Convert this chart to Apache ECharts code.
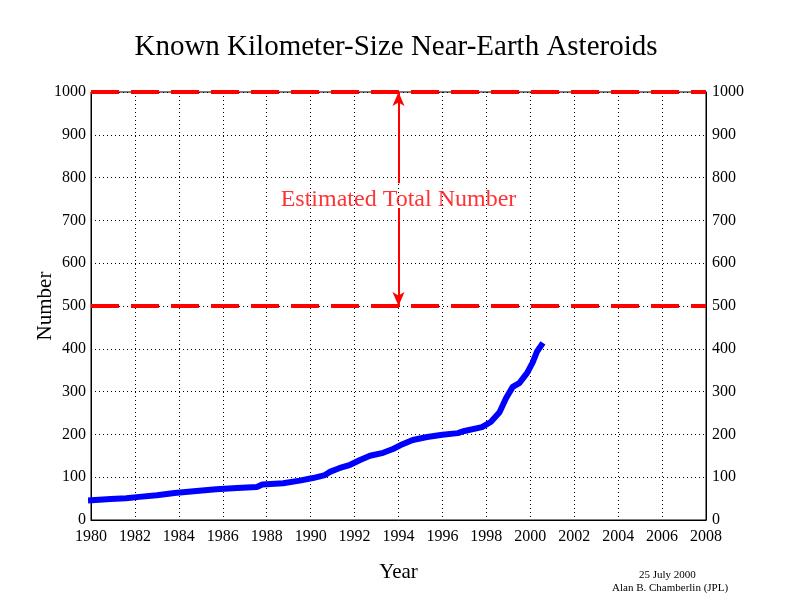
<!DOCTYPE html>
<html>
<head>
<meta charset="utf-8">
<script src="https://cdn.jsdelivr.net/npm/echarts@6/dist/echarts.min.js"></script>
<style>
  html, body { margin: 0; padding: 0; background: #fff; }
</style>
</head>
<body>
<div id="main" style="width: 792px; height: 612px"></div>
<script>
// discovery curve
var years = [1980.0, 1980.9, 1981.6, 1982.2, 1983.0, 1983.8, 1984.8, 1985.7, 1986.65, 1987.55,
  1987.8, 1988.75, 1989.5, 1990.1, 1990.65, 1990.9, 1991.3, 1991.8, 1992.25, 1992.7,
  1993.3, 1993.75, 1994.1, 1994.65, 1995.3, 1996.0, 1996.7, 1997.0, 1997.8, 1998.2,
  1998.6, 1998.9, 1999.2, 1999.5, 1999.85, 2000.1, 2000.3, 2000.5]
var counts = [46, 49, 51, 54, 58, 63, 68, 72, 75, 77,
  83, 86, 92, 98, 105, 113, 121, 129, 140, 150,
  157, 166, 175, 187, 194, 199, 203, 208, 217, 229,
  252, 285, 311, 320, 343, 367, 393, 408]

// estimated total range
var estLow = 500
var estHigh = 1000
var xRange = [1980, 2008]
var arrowYear = 1994
var arrowGap = [729, 787] // where the label breaks the arrow
var labelValue = 748

var serif = 'Liberation Serif'
var chartDom = document.getElementById('main')
var myChart = echarts.init(chartDom)

var curve = years.map(function (y, i) { return [y, counts[i]] })
var plain = function (v) { return String(v) } // no thousands separator

var option = {
  animation: false,
  title: {
    text: 'Known Kilometer-Size Near-Earth Asteroids',
    left: 'center',
    top: 28,
    textStyle: { fontFamily: serif, fontSize: 29, fontWeight: 'normal', color: '#000' }
  },
  grid: {
    left: 91, right: 86, top: 92, bottom: 92,
    show: true, borderColor: '#000', borderWidth: 1
  },
  xAxis: {
    type: 'value',
    min: xRange[0], max: xRange[1], interval: 2,
    name: 'Year',
    nameLocation: 'middle',
    nameGap: 42,
    nameTextStyle: { fontFamily: serif, fontSize: 21, color: '#000' },
    axisLine: { show: true, onZero: false, lineStyle: { color: '#000', width: 1 } },
    axisTick: { show: false },
    axisLabel: { fontFamily: serif, fontSize: 16, color: '#000', margin: 9, formatter: plain },
    splitLine: { show: true, lineStyle: { color: '#000', type: [1, 3], width: 1 } }
  },
  yAxis: [
    {
      type: 'value',
      min: 0, max: 1000, interval: 100,
      name: 'Number',
      nameLocation: 'middle',
      nameGap: 35,
      nameMoveOverlap: false,
      nameTextStyle: { fontFamily: serif, fontSize: 21, color: '#000' },
      axisLine: { show: true, lineStyle: { color: '#000', width: 1 } },
      axisTick: { show: false },
      axisLabel: { fontFamily: serif, fontSize: 16, color: '#000', margin: 5, formatter: plain },
      splitLine: { show: true, lineStyle: { color: '#000', type: [1, 3], width: 1 } }
    },
    {
      type: 'value',
      position: 'right',
      min: 0, max: 1000, interval: 100,
      axisLine: { show: true, lineStyle: { color: '#000', width: 1 } },
      axisTick: { show: false },
      axisLabel: { fontFamily: serif, fontSize: 16, color: '#000', margin: 6, formatter: plain },
      splitLine: { show: false }
    }
  ],
  series: [
    {
      name: 'Upper',
      type: 'line',
      showSymbol: false,
      lineStyle: { color: '#ff0000', width: 4, type: [28, 12] },
      data: [[xRange[0], estHigh], [xRange[1], estHigh]],
      z: 3
    },
    {
      name: 'Lower',
      type: 'line',
      showSymbol: false,
      lineStyle: { color: '#ff0000', width: 4, type: [28, 12] },
      data: [[xRange[0], estLow], [xRange[1], estLow]],
      z: 3,
      markLine: {
        silent: true,
        symbol: ['none', 'arrow'],
        symbolSize: [9, 14],
        lineStyle: { color: '#ff0000', width: 2, type: 'solid' },
        label: { show: false },
        data: [
          [{ coord: [arrowYear, arrowGap[1]] }, { coord: [arrowYear, estHigh] }],
          [{ coord: [arrowYear, arrowGap[0]] }, { coord: [arrowYear, estLow] }]
        ]
      }
    },
    {
      name: 'Label',
      type: 'scatter',
      symbolSize: 0,
      itemStyle: { color: '#ff0000' },
      data: [[arrowYear, labelValue]],
      label: {
        show: true,
        position: 'inside',
        formatter: 'Estimated Total Number',
        fontFamily: serif,
        fontSize: 24,
        color: '#ff0000',
        textBorderWidth: 0
      },
      z: 4
    },
    {
      name: 'Known',
      type: 'line',
      showSymbol: false,
      lineStyle: { color: '#0000ff', width: 6, cap: 'square' },
      data: curve,
      z: 5
    }
  ],
  graphic: [
    {
      type: 'text', left: 639, top: 570,
      style: { text: '25 July 2000', font: '11px "Liberation Serif"', fill: '#000' }
    },
    {
      type: 'text', left: 612, top: 583,
      style: { text: 'Alan B. Chamberlin (JPL)', font: '11px "Liberation Serif"', fill: '#000' }
    }
  ]
}
option && myChart.setOption(option)
</script>
</body>
</html>
